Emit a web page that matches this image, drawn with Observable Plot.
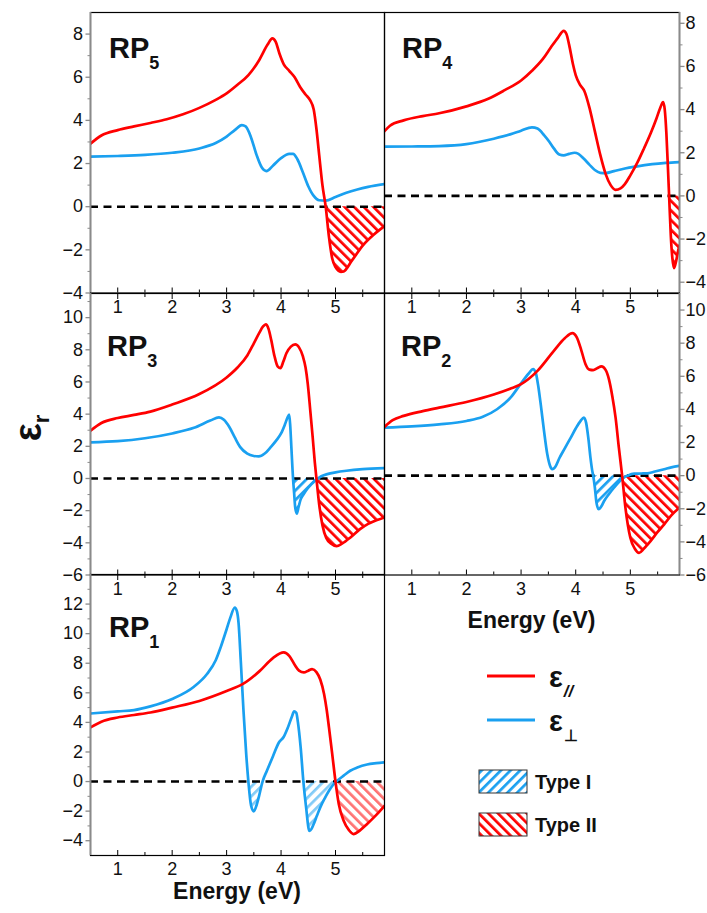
<!DOCTYPE html>
<html>
<head>
<meta charset="utf-8">
<script src="https://cdn.jsdelivr.net/npm/d3@7"></script>
<script src="https://cdn.jsdelivr.net/npm/@observablehq/plot@0.6"></script>
<style>
  html,body{margin:0;padding:0;background:#fff;}
  #wrap{position:relative;width:707px;height:913px;overflow:hidden;font-family:"Liberation Sans",Arial,sans-serif;}
  #wrap > svg{position:absolute;}
</style>
</head>
<body>
<svg width="0" height="0" style="position:absolute;left:0;top:0">
  <defs>
    <pattern id="hatchII" patternUnits="userSpaceOnUse" width="6.8" height="6.8" patternTransform="rotate(-45)">
      <rect x="0" y="0" width="2.7" height="6.8" fill="#ff0000"></rect>
    </pattern>
    <pattern id="hatchI" patternUnits="userSpaceOnUse" width="6.8" height="6.8" patternTransform="rotate(45)">
      <rect x="0" y="0" width="2.7" height="6.8" fill="#1aa0f0"></rect>
    </pattern>
  </defs>
</svg>
<div id="wrap"></div>
<script>
// ---------------- data ----------------
const xDomain = [0.5, 5.9];
const xTicks = [1, 2, 3, 4, 5];
const xMinorTicks = [1.5, 2.5, 3.5, 4.5, 5.5];

// [energy (eV), eps]
const rp5Par = [[0.5,2.92],[0.7,3.3],[1.0,3.55],[1.3,3.72],[1.6,3.88],[1.9,4.05],[2.2,4.28],[2.5,4.58],[2.8,4.95],[3.0,5.25],[3.2,5.65],[3.4,6.1],[3.6,6.8],[3.75,7.5],[3.84,7.8],[3.9,7.65],[3.97,7.1],[4.05,6.6],[4.15,6.3],[4.25,6.0],[4.35,5.55],[4.45,5.2],[4.53,4.95],[4.6,4.5],[4.65,3.6],[4.7,2.4],[4.76,1.0],[4.82,0.0],[4.88,-1.4],[4.94,-2.4],[5.0,-2.8],[5.1,-3.02],[5.15,-3.0],[5.3,-2.5],[5.5,-1.8],[5.7,-1.3],[5.9,-0.9]];
const rp5Perp = [[0.5,2.32],[1.0,2.35],[1.5,2.4],[2.0,2.5],[2.5,2.7],[2.8,2.95],[3.0,3.25],[3.15,3.55],[3.28,3.78],[3.35,3.72],[3.45,3.2],[3.55,2.4],[3.65,1.8],[3.73,1.65],[3.85,1.9],[4.0,2.25],[4.15,2.45],[4.22,2.45],[4.3,2.2],[4.4,1.6],[4.5,0.95],[4.6,0.5],[4.7,0.3],[4.82,0.28],[5.0,0.45],[5.2,0.65],[5.4,0.8],[5.6,0.92],[5.9,1.05]];

const rp4Par = [[0.5,3.0],[0.6,3.25],[0.85,3.5],[1.2,3.7],[1.5,3.83],[2.0,4.15],[2.4,4.5],[2.7,4.9],[3.0,5.35],[3.2,5.8],[3.4,6.35],[3.55,6.9],[3.68,7.35],[3.78,7.65],[3.83,7.5],[3.88,7.0],[3.95,6.1],[4.0,5.6],[4.08,5.15],[4.16,4.85],[4.25,4.1],[4.35,3.0],[4.45,1.9],[4.55,1.0],[4.64,0.5],[4.73,0.28],[4.82,0.35],[4.9,0.55],[5.0,0.95],[5.13,1.55],[5.25,2.2],[5.38,2.95],[5.48,3.6],[5.55,4.1],[5.6,4.35],[5.63,4.0],[5.66,2.9],[5.69,1.2],[5.71,0.0],[5.74,-1.8],[5.77,-2.9],[5.8,-3.35],[5.84,-3.0],[5.87,-2.6],[5.9,-2.3]];
const rp4Perp = [[0.5,2.28],[1.0,2.29],[1.5,2.31],[2.0,2.4],[2.5,2.65],[2.8,2.85],[3.0,3.02],[3.2,3.18],[3.3,3.12],[3.42,2.82],[3.52,2.5],[3.6,2.2],[3.7,1.92],[3.78,1.88],[3.88,1.95],[3.98,2.0],[4.05,1.95],[4.15,1.72],[4.25,1.45],[4.35,1.2],[4.45,1.07],[4.55,1.06],[4.7,1.15],[4.9,1.27],[5.1,1.36],[5.4,1.47],[5.65,1.53],[5.9,1.57]];

const rp3Par = [[0.5,2.97],[0.7,3.45],[1.0,3.76],[1.3,3.95],[1.6,4.16],[2.0,4.6],[2.5,5.25],[3.0,6.28],[3.2,6.9],[3.38,7.65],[3.5,8.4],[3.6,9.05],[3.67,9.45],[3.72,9.58],[3.77,9.3],[3.82,8.6],[3.88,7.6],[3.94,6.95],[3.99,6.86],[4.04,7.25],[4.1,7.8],[4.18,8.2],[4.26,8.34],[4.33,8.15],[4.4,7.6],[4.45,6.9],[4.49,5.9],[4.54,4.1],[4.58,2.6],[4.62,1.0],[4.65,0.0],[4.7,-1.6],[4.76,-2.9],[4.83,-3.7],[4.92,-4.05],[5.02,-4.2],[5.12,-4.05],[5.28,-3.65],[5.45,-3.15],[5.6,-2.82],[5.75,-2.6],[5.9,-2.42]];
const rp3Perp = [[0.5,2.25],[1.0,2.32],[1.5,2.5],[2.0,2.8],[2.4,3.15],[2.7,3.6],[2.86,3.8],[2.95,3.65],[3.05,3.2],[3.15,2.55],[3.25,1.95],[3.38,1.55],[3.5,1.4],[3.59,1.37],[3.7,1.55],[3.81,1.95],[3.92,2.4],[4.0,2.8],[4.07,3.35],[4.12,3.8],[4.15,3.97],[4.17,3.2],[4.19,1.9],[4.21,0.6],[4.22,0.0],[4.24,-0.9],[4.26,-1.8],[4.29,-2.18],[4.32,-1.8],[4.36,-1.3],[4.42,-0.95],[4.48,-0.65],[4.56,-0.35],[4.63,-0.12],[4.65,-0.06],[4.68,0.0],[4.75,0.15],[4.85,0.27],[5.0,0.38],[5.2,0.48],[5.5,0.58],[5.9,0.65]];

const rp2Par = [[0.5,2.94],[0.65,3.35],[0.85,3.61],[1.2,3.9],[1.5,4.11],[2.0,4.45],[2.5,4.9],[2.8,5.25],[3.0,5.53],[3.3,6.33],[3.6,7.54],[3.8,8.3],[3.94,8.61],[4.02,8.35],[4.1,7.6],[4.18,6.73],[4.25,6.4],[4.32,6.37],[4.4,6.5],[4.47,6.6],[4.55,6.37],[4.61,5.8],[4.67,4.8],[4.73,3.5],[4.79,1.69],[4.85,0.0],[4.91,-1.93],[5.0,-3.75],[5.08,-4.4],[5.16,-4.66],[5.25,-4.4],[5.37,-3.95],[5.5,-3.4],[5.62,-2.94],[5.75,-2.4],[5.9,-1.93]];
const rp2Perp = [[0.5,2.9],[1.0,2.98],[1.5,3.1],[2.0,3.3],[2.3,3.55],[2.56,4.01],[2.81,4.72],[2.99,5.53],[3.14,6.17],[3.22,6.43],[3.27,6.2],[3.31,5.5],[3.36,4.3],[3.42,2.7],[3.48,1.29],[3.53,0.6],[3.57,0.39],[3.62,0.5],[3.7,1.05],[3.8,1.65],[3.91,2.3],[4.0,2.85],[4.09,3.31],[4.15,3.51],[4.19,3.2],[4.23,2.3],[4.27,1.09],[4.3,0.35],[4.32,0.0],[4.35,-0.7],[4.38,-1.63],[4.42,-2.03],[4.47,-1.85],[4.52,-1.53],[4.6,-1.15],[4.7,-0.73],[4.8,-0.35],[4.85,-0.2],[4.88,-0.12],[4.95,0.0],[5.07,0.12],[5.2,0.13],[5.31,0.14],[5.45,0.25],[5.62,0.39],[5.75,0.5],[5.9,0.59]];

const rp1Par = [[0.5,3.66],[0.7,4.05],[1.0,4.33],[1.3,4.5],[1.6,4.67],[2.0,5.0],[2.5,5.45],[3.0,6.12],[3.3,6.6],[3.6,7.45],[3.85,8.35],[4.05,8.73],[4.15,8.5],[4.25,7.9],[4.33,7.5],[4.42,7.38],[4.5,7.5],[4.57,7.6],[4.65,7.4],[4.72,6.9],[4.79,5.92],[4.84,4.8],[4.88,3.66],[4.94,1.86],[5.0,0.0],[5.06,-1.52],[5.15,-2.65],[5.25,-3.3],[5.33,-3.55],[5.45,-3.3],[5.58,-2.87],[5.75,-2.25],[5.9,-1.64]];
const rp1Perp = [[0.5,4.6],[1.0,4.75],[1.3,4.83],[1.6,5.08],[2.0,5.58],[2.4,6.41],[2.64,7.27],[2.8,8.2],[2.89,9.07],[3.0,10.3],[3.07,11.1],[3.15,11.77],[3.19,11.5],[3.22,10.7],[3.26,8.17],[3.31,4.79],[3.36,1.86],[3.4,0.0],[3.45,-1.64],[3.5,-2.02],[3.55,-1.6],[3.59,-1.07],[3.66,0.0],[3.74,0.73],[3.85,1.7],[3.96,2.64],[4.05,3.03],[4.12,3.6],[4.2,4.4],[4.24,4.74],[4.28,4.65],[4.31,4.0],[4.36,2.31],[4.41,0.0],[4.46,-1.75],[4.52,-3.33],[4.56,-3.2],[4.6,-2.87],[4.66,-2.3],[4.72,-1.75],[4.8,-1.15],[4.88,-0.62],[4.95,-0.25],[5.0,-0.05],[5.03,0.05],[5.15,0.4],[5.27,0.73],[5.4,0.95],[5.58,1.15],[5.75,1.24],[5.9,1.3]];

// y ticks
const rp5YTicks = [-4,-2,0,2,4,6,8];       const rp5YMinor = [-3,-1,1,3,5,7];
const rp4YTicks = [-4,-2,0,2,4,6,8];       const rp4YMinor = [-3,-1,1,3,5,7];
const rp3YTicks = [-6,-4,-2,0,2,4,6,8,10]; const rp3YMinor = [-5,-3,-1,1,3,5,7,9,11];
const rp2YTicks = [-6,-4,-2,0,2,4,6,8,10]; const rp2YMinor = [-5,-3,-1,1,3,5,7,9];
const rp1YTicks = [-4,-2,0,2,4,6,8,10,12]; const rp1YMinor = [-3,-1,1,3,5,7,9,11,13];

// hyperbolic regions: [type, from eV, to eV]
const rp5Hatch = [["II",4.82,5.9]];
const rp4Hatch = [["II",5.71,5.9]];
const rp3Hatch = [["I",4.22,4.65],["II",4.65,5.9]];
const rp2Hatch = [["I",4.32,4.85],["II",4.85,5.9]];
const rp1Hatch = [["I",3.4,3.66],["I",4.41,5.0],["II",5.0,5.9]];

const panelNames = ["5","4","3","2","1"];
const legendSubs = ["//","\u22A5"];
const typeLabels = ["Type I","Type II"];
const axisTitle = "Energy (eV)";

// ---------------- layout / style ----------------
const RED = "#ff0000", BLUE = "#1aa0f0";
const M = 40;
const layout = [
  {sub:panelNames[0], par:rp5Par, perp:rp5Perp, yDomain:[-4,9],     yTicks:rp5YTicks, yMinor:rp5YMinor, hatch:rp5Hatch, left:90,  top:12,    w:294, h:280.5, side:"left",  topTicks:false, light:false, lx:109, ly:58},
  {sub:panelNames[1], par:rp4Par, perp:rp4Perp, yDomain:[-4.5,8.5], yTicks:rp4YTicks, yMinor:rp4YMinor, hatch:rp4Hatch, left:384, top:12,    w:295, h:280.5, side:"right", topTicks:false, light:false, lx:402, ly:58},
  {sub:panelNames[2], par:rp3Par, perp:rp3Perp, yDomain:[-6,11.5],  yTicks:rp3YTicks, yMinor:rp3YMinor, hatch:rp3Hatch, left:90,  top:292.5, w:294, h:281.5, side:"left",  topTicks:true,  light:false, lx:107, ly:356},
  {sub:panelNames[3], par:rp2Par, perp:rp2Perp, yDomain:[-6,11],    yTicks:rp2YTicks, yMinor:rp2YMinor, hatch:rp2Hatch, left:384, top:292.5, w:295, h:281.5, side:"right", topTicks:true,  light:false, lx:401, ly:356},
  {sub:panelNames[4], par:rp1Par, perp:rp1Perp, yDomain:[-5,14],    yTicks:rp1YTicks, yMinor:rp1YMinor, hatch:rp1Hatch, left:90,  top:574,   w:294, h:281,   side:"left",  topTicks:true,  light:true,  lx:109, ly:637}
];

const X = d => d[0], Y = d => d[1];
const wrap = document.getElementById("wrap");

function panel(p) {
  const marks = [];
  for (const [type, a, b] of p.hatch) {
    const src = type === "I" ? p.perp : p.par;
    marks.push(Plot.areaY(src.filter(d => d[0] >= a && d[0] <= b), {
      x: X, y1: 0, y2: d => Math.min(d[1], 0),
      fill: `url(#hatch${type})`, fillOpacity: p.light ? 0.55 : 1,
      curve: "monotone-x", clip: true
    }));
  }
  marks.push(Plot.ruleY([0], {stroke: "#000", strokeWidth: 2.6, strokeDasharray: "8,5.5"}));
  marks.push(Plot.line(p.perp, {x: X, y: Y, stroke: BLUE, strokeWidth: 2.7, curve: "monotone-x", clip: true}));
  marks.push(Plot.line(p.par, {x: X, y: Y, stroke: RED, strokeWidth: 2.7, curve: "monotone-x", clip: true}));
  marks.push(Plot.frame({stroke: "#000", strokeWidth: 1.2}));
  const edge = p.side === "left" ? xDomain[0] : xDomain[1];
  marks.push(Plot.ruleX([edge], {stroke: "#8a8a8a", strokeWidth: 1.8}));
  marks.push(Plot.axisY(p.yTicks, {anchor: p.side, tickSize: 4.5, tickPadding: p.side === "left" ? 3 : 1.5, stroke: "#8a8a8a", strokeWidth: 1.3, fill: "#111", fontSize: 18, label: null}));
  marks.push(Plot.axisY(p.yMinor, {anchor: p.side, tickSize: 2.5, stroke: "#8a8a8a", fill: "none", label: null}));
  marks.push(Plot.axisX(xTicks, {anchor: "bottom", tickSize: -5, tickPadding: 12, stroke: "#000", fill: "#111", fontSize: 18, label: null}));
  marks.push(Plot.axisX(xMinorTicks, {anchor: "bottom", tickSize: -3, stroke: "#000", fill: "none", label: null}));
  if (p.topTicks) {
    marks.push(Plot.axisX(xTicks, {anchor: "top", tickSize: -5, stroke: "#000", fill: "none", label: null}));
    marks.push(Plot.axisX(xMinorTicks, {anchor: "top", tickSize: -3, stroke: "#000", fill: "none", label: null}));
  }
  const svg = Plot.plot({
    width: p.w + 2 * M, height: p.h + 2 * M,
    marginLeft: M, marginRight: M, marginTop: M, marginBottom: M,
    x: {domain: xDomain},
    y: {domain: p.yDomain},
    style: {background: "transparent", overflow: "visible", fontFamily: "'Liberation Sans', Arial, sans-serif", fontSize: "18px"},
    marks
  });
  svg.style.position = "absolute";
  svg.style.left = (p.left - M) + "px";
  svg.style.top = (p.top - M) + "px";
  svg.style.maxWidth = "none";
  wrap.appendChild(svg);
}
layout.forEach(panel);

// ---------------- overlay texts & legend ----------------
const ov = d3.select(wrap).append("svg")
  .attr("width", 707).attr("height", 913)
  .style("left", "0px").style("top", "0px")
  .style("font-family", "'Liberation Sans', Arial, sans-serif");

for (const p of layout) {
  const t = ov.append("text").attr("x", p.lx).attr("y", p.ly)
    .attr("font-size", 29).attr("font-weight", "bold").attr("fill", "#111");
  t.append("tspan").text("RP");
  t.append("tspan").attr("font-size", 18).attr("dy", 11).text(p.sub);
}

ov.append("text").attr("x", 237).attr("y", 899).attr("text-anchor", "middle")
  .attr("font-size", 23).attr("font-weight", "bold").attr("fill", "#111").text(axisTitle);
ov.append("text").attr("x", 531.5).attr("y", 628).attr("text-anchor", "middle")
  .attr("font-size", 23).attr("font-weight", "bold").attr("fill", "#111").text(axisTitle);

const yt = ov.append("text").attr("transform", "translate(41,428) rotate(-90)")
  .attr("text-anchor", "middle").attr("font-weight", "bold").attr("fill", "#111");
yt.append("tspan").attr("font-size", 38).text("\u03B5");
yt.append("tspan").attr("font-size", 22).attr("dy", 8).text("r");

// legend: lines
const legendColors = [RED, BLUE];
const legendY = [676, 720];
legendSubs.forEach((s, i) => {
  ov.append("line").attr("x1", 487).attr("x2", 535).attr("y1", legendY[i]).attr("y2", legendY[i])
    .attr("stroke", legendColors[i]).attr("stroke-width", 3);
  const t = ov.append("text").attr("x", 549).attr("y", legendY[i] + 11)
    .attr("font-weight", "bold").attr("fill", "#111");
  t.append("tspan").attr("font-size", 29).text("\u03B5");
  t.append("tspan").attr("font-size", i === 0 ? 17 : 16).attr("font-style", i === 0 ? "italic" : "normal")
    .attr("dx", 1).attr("dy", 10).text(s);
});
// legend: hatch boxes
const boxY = [770, 813];
typeLabels.forEach((s, i) => {
  ov.append("rect").attr("x", 479).attr("y", boxY[i]).attr("width", 48).attr("height", 23)
    .attr("fill", i === 0 ? "url(#hatchI)" : "url(#hatchII)").attr("stroke", "#333").attr("stroke-width", 1);
  ov.append("text").attr("x", 535).attr("y", boxY[i] + 19).attr("font-size", 20)
    .attr("font-weight", "bold").attr("fill", "#111").text(s);
});
</script>
</body>
</html>
